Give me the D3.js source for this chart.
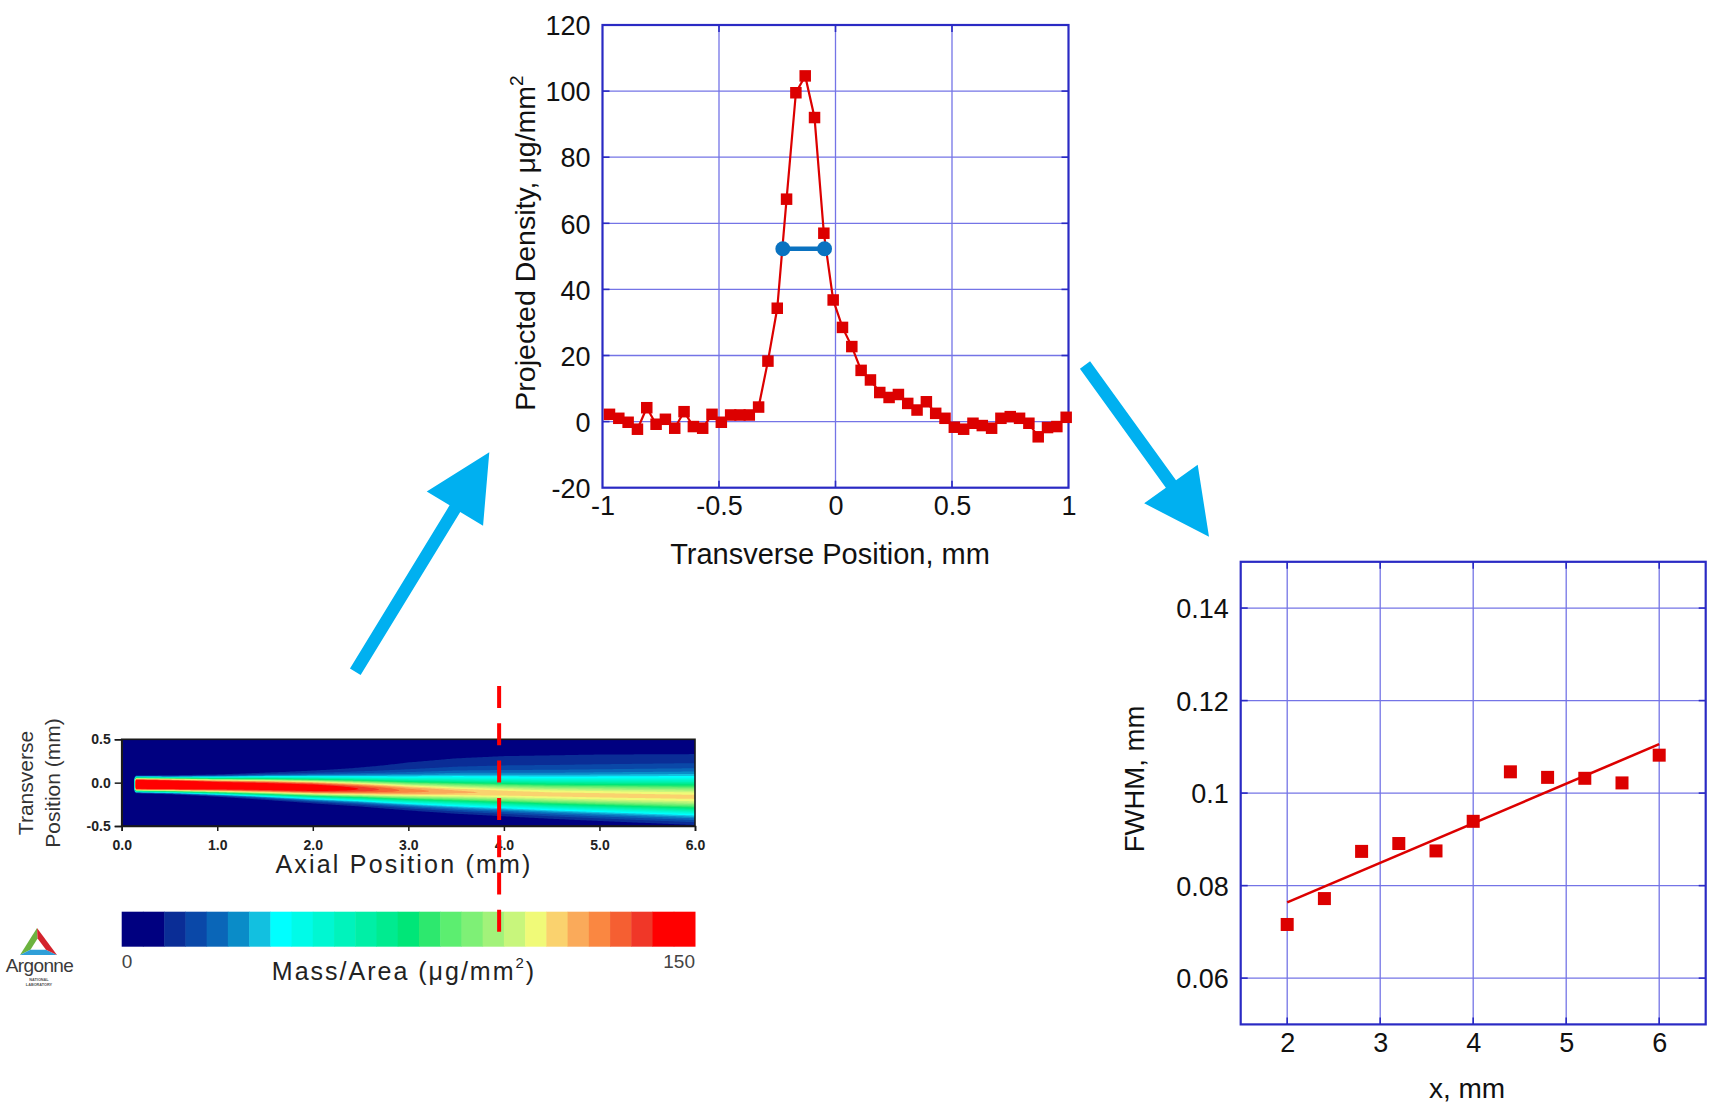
<!DOCTYPE html>
<html>
<head>
<meta charset="utf-8">
<script src="https://cdn.jsdelivr.net/npm/d3@7"></script>
<style>
  body { margin: 0; background: #fff; }
  svg { display: block; }
  text { font-family: "Liberation Sans", Arial, Helvetica, sans-serif; }
</style>
</head>
<body>
<svg id="fig" width="1714" height="1109"></svg>
<script>
// ---------- transverse density profile at the slice ----------
const transversePos = [
  -0.97, -0.93, -0.89, -0.85, -0.81, -0.77, -0.73, -0.69, -0.65, -0.61,
  -0.57, -0.53, -0.49, -0.45, -0.41, -0.37, -0.33, -0.29, -0.25, -0.21,
  -0.17, -0.13, -0.09, -0.05, -0.01, 0.03, 0.07, 0.11, 0.15, 0.19,
  0.23, 0.27, 0.31, 0.35, 0.39, 0.43, 0.47, 0.51, 0.55, 0.59,
  0.63, 0.67, 0.71, 0.75, 0.79, 0.83, 0.87, 0.91, 0.95, 0.99
];
const projectedDensity = [
  2.2, 1.0, -0.2, -2.3, 4.2, -0.8, 0.7, -2.0, 3.0, -1.5,
  -2.0, 2.2, -0.2, 2.0, 2.0, 2.0, 4.4, 18.3, 34.3, 67.3,
  99.5, 104.6, 92.0, 57.0, 36.8, 28.5, 22.7, 15.5, 12.6, 8.8,
  7.3, 8.2, 5.5, 3.5, 6.0, 2.5, 1.0, -1.7, -2.3, -0.5,
  -1.2, -2.0, 1.0, 1.5, 1.0, -0.5, -4.6, -1.8, -1.5, 1.3
];
const fwhmEdges = [-0.226, -0.047];
const fwhmLevel = 52.3;
const profileXTicks = [-1, -0.5, 0, 0.5, 1];
const profileYTicks = [-20, 0, 20, 40, 60, 80, 100, 120];

// ---------- FWHM versus axial distance ----------
const axialDist = [2, 2.4, 2.8, 3.2, 3.6, 4, 4.4, 4.8, 5.2, 5.6, 6];
const fwhmValues = [0.0716, 0.0772, 0.0874, 0.0891, 0.0875, 0.0939, 0.1046, 0.1034, 0.1032, 0.1022, 0.1082];
const fwhmXTicks = [2, 3, 4, 5, 6];
const fwhmYTicks = [0.06, 0.08, 0.1, 0.12, 0.14];

// ---------- spray mass/area map (plume parameters per axial station) ----------
const mapStations = [0.15, 0.5, 1.0, 1.5, 2.0, 2.5, 3.0, 3.5, 4.0, 4.5, 5.0, 5.5, 6.0];
const plumeCenter = [-0.02, -0.025, -0.035, -0.045, -0.06, -0.075, -0.095, -0.11, -0.125, -0.14, -0.15, -0.16, -0.17];
const plumePeak   = [165, 160, 148, 144, 141, 128, 114, 107, 103, 102, 102, 102, 102];
const plumeWidth  = [0.08, 0.082, 0.09, 0.10, 0.11, 0.12, 0.135, 0.15, 0.16, 0.17, 0.18, 0.19, 0.2];
const plumeShape  = [4, 3.6, 3.0, 2.6, 2.3, 2.1, 2.0, 1.9, 1.9, 1.9, 1.9, 1.9, 1.9];
const haloPeak    = [0, 2, 5, 8, 10, 12, 14, 15, 16, 16, 16, 16, 16];
const haloCenter  = [0, 0, 0, 0, 0.02, 0.04, 0.06, 0.08, 0.08, 0.08, 0.08, 0.08, 0.08];
const haloWidth   = [0.1, 0.12, 0.15, 0.18, 0.2, 0.22, 0.24, 0.25, 0.26, 0.27, 0.28, 0.28, 0.28];
const plumeStart = 0.15;
const mapXTicks = [0, 1, 2, 3, 4, 5, 6];
const mapYTicks = [0.5, 0, -0.5];
const massRange = [0, 150];
const massTicks = [0, 150];
const sliceAt = 3.95;

// ---------- styling ----------
const GRID = "#7474e6";
const FRAME = "#2a2ac4";
const RED = "#dc0000";
const ARROW = "#00b0f0";
const jetBands = [
  "#000080", "#000080", "#0a2d96", "#0a48a8", "#0a66b8", "#0a8cc8", "#12c0e0",
  "#00ffff", "#00fbe8", "#00f7d2", "#00f3bc", "#00efa6", "#00eb90", "#00e678",
  "#2de86e", "#5cee70", "#7ef076", "#a2f27a", "#c8f67c", "#f0fa78",
  "#fad26e", "#faaa5a", "#fa8741", "#f55f32", "#f03728", "#ff0000", "#ff0000"
];

const svg = d3.select("#fig");
svg.append("rect").attr("width", 1714).attr("height", 1109).attr("fill", "#fff");

// Framed scientific panel with blue grid, inward ticks and axis numbers
function framedPanel(cfg) {
  const g = svg.append("g");
  const x = d3.scaleLinear().domain(cfg.xDomain).range([cfg.left, cfg.right]);
  const y = d3.scaleLinear().domain(cfg.yDomain).range([cfg.bottom, cfg.top]);
  const inX = cfg.xTicks.filter(t => t > cfg.xDomain[0] + 1e-9 && t < cfg.xDomain[1] - 1e-9);
  const inY = cfg.yTicks.filter(t => t > cfg.yDomain[0] + 1e-9 && t < cfg.yDomain[1] - 1e-9);

  g.append("g").selectAll("line").data(inX).join("line")
    .attr("x1", d => x(d)).attr("x2", d => x(d))
    .attr("y1", cfg.top).attr("y2", cfg.bottom)
    .attr("stroke", GRID).attr("stroke-width", 1.3);
  g.append("g").selectAll("line").data(inY).join("line")
    .attr("y1", d => y(d)).attr("y2", d => y(d))
    .attr("x1", cfg.left).attr("x2", cfg.right)
    .attr("stroke", GRID).attr("stroke-width", 1.3);

  const tk = 7;
  const ticks = g.append("g").attr("stroke", FRAME).attr("stroke-width", 1.6);
  inY.forEach(d => {
    ticks.append("line").attr("x1", cfg.left).attr("x2", cfg.left + tk).attr("y1", y(d)).attr("y2", y(d));
    ticks.append("line").attr("x1", cfg.right - tk).attr("x2", cfg.right).attr("y1", y(d)).attr("y2", y(d));
  });
  inX.forEach(d => {
    ticks.append("line").attr("y1", cfg.bottom).attr("y2", cfg.bottom - tk).attr("x1", x(d)).attr("x2", x(d));
    ticks.append("line").attr("y1", cfg.top).attr("y2", cfg.top + tk).attr("x1", x(d)).attr("x2", x(d));
  });

  g.append("rect")
    .attr("x", cfg.left).attr("y", cfg.top)
    .attr("width", cfg.right - cfg.left).attr("height", cfg.bottom - cfg.top)
    .attr("fill", "none").attr("stroke", FRAME).attr("stroke-width", 2.2);

  const xAxis = g.append("g").attr("transform", `translate(0,${cfg.bottom})`)
    .call(d3.axisBottom(x).tickValues(cfg.xTicks).tickFormat(cfg.xFmt).tickSize(0).tickPadding(8));
  const yAxis = g.append("g").attr("transform", `translate(${cfg.left},0)`)
    .call(d3.axisLeft(y).tickValues(cfg.yTicks).tickFormat(cfg.yFmt).tickSize(0).tickPadding(12));
  [xAxis, yAxis].forEach(a => {
    a.select(".domain").remove();
    a.attr("font-family", null).attr("font-size", null);
    a.selectAll("text").attr("font-size", 27).attr("fill", "#111");
  });
  yAxis.selectAll("text").attr("dy", "0.36em");
  return { g, x, y };
}

// ---------- top: projected density profile ----------
const prof = framedPanel({
  left: 602.5, right: 1068.5, top: 25, bottom: 487.7,
  xDomain: [-1, 1], yDomain: [-20, 120],
  xTicks: profileXTicks, yTicks: profileYTicks,
  xFmt: d => String(d), yFmt: d => String(d)
});
const profPts = transversePos.map((p, i) => [p, projectedDensity[i]]);
prof.g.append("path")
  .datum(profPts)
  .attr("d", d3.line().x(d => prof.x(d[0])).y(d => prof.y(d[1])))
  .attr("fill", "none").attr("stroke", RED).attr("stroke-width", 2.2);
const sq1 = 11.5;
prof.g.append("g").selectAll("rect").data(profPts).join("rect")
  .attr("x", d => prof.x(d[0]) - sq1 / 2).attr("y", d => prof.y(d[1]) - sq1 / 2)
  .attr("width", sq1).attr("height", sq1).attr("fill", RED);
// full width at half maximum marker
prof.g.append("line")
  .attr("x1", prof.x(fwhmEdges[0])).attr("x2", prof.x(fwhmEdges[1]))
  .attr("y1", prof.y(fwhmLevel)).attr("y2", prof.y(fwhmLevel))
  .attr("stroke", "#0a72c0").attr("stroke-width", 4.5);
prof.g.append("g").selectAll("circle").data(fwhmEdges).join("circle")
  .attr("cx", d => prof.x(d)).attr("cy", prof.y(fwhmLevel)).attr("r", 7.5)
  .attr("fill", "#0a72c0");

svg.append("text").attr("x", 830).attr("y", 564).attr("text-anchor", "middle")
  .attr("font-size", 29).attr("fill", "#111").text("Transverse Position, mm");
const yt = svg.append("text").attr("transform", "translate(535,243) rotate(-90)")
  .attr("text-anchor", "middle").attr("font-size", 28.5).attr("fill", "#111");
yt.append("tspan").text("Projected Density, μg/mm");
yt.append("tspan").attr("dy", -12).attr("font-size", 19).text("2");

// ---------- right: FWHM growth ----------
const fw = framedPanel({
  left: 1240.7, right: 1705.7, top: 561.8, bottom: 1024.4,
  xDomain: [1.5, 6.5], yDomain: [0.05, 0.15],
  xTicks: fwhmXTicks, yTicks: fwhmYTicks,
  xFmt: d => String(d), yFmt: d => String(d)
});
// least-squares trend line through the FWHM points
const mx = d3.mean(axialDist), my = d3.mean(fwhmValues);
const slope = d3.sum(axialDist, (v, i) => (v - mx) * (fwhmValues[i] - my)) /
              d3.sum(axialDist, v => (v - mx) * (v - mx));
const icpt = my - slope * mx;
const xr = d3.extent(axialDist);
fw.g.append("line")
  .attr("x1", fw.x(xr[0])).attr("y1", fw.y(icpt + slope * xr[0]))
  .attr("x2", fw.x(xr[1])).attr("y2", fw.y(icpt + slope * xr[1]))
  .attr("stroke", RED).attr("stroke-width", 2.6);
const sq2 = 13;
fw.g.append("g").selectAll("rect").data(axialDist).join("rect")
  .attr("x", (d) => fw.x(d) - sq2 / 2)
  .attr("y", (d, i) => fw.y(fwhmValues[i]) - sq2 / 2)
  .attr("width", sq2).attr("height", sq2).attr("fill", RED);
svg.append("text").attr("x", 1467).attr("y", 1098).attr("text-anchor", "middle")
  .attr("font-size", 28).attr("fill", "#111").text("x, mm");
svg.append("text").attr("transform", "translate(1144,779) rotate(-90)")
  .attr("text-anchor", "middle").attr("font-size", 27.5).attr("fill", "#111").text("FWHM, mm");

// ---------- bottom-left: mass/area map ----------
const map = { left: 121.7, right: 695, top: 739.3, bottom: 826 };
const mxS = d3.scaleLinear().domain([0, 6]).range([map.left, map.right]);
const myS = d3.scaleLinear().domain([-0.5, 0.5]).range([map.bottom, map.top]);
const massColor = d3.scaleQuantize().domain(massRange).range(jetBands);

const along = arr => d3.scaleLinear().domain(mapStations).range(arr).clamp(true);
const cS = along(plumeCenter), pS = along(plumePeak), wS = along(plumeWidth),
      eS = along(plumeShape), hS = along(haloPeak), hcS = along(haloCenter), hwS = along(haloWidth);
function massAt(ax, tr) {
  if (ax < plumeStart) return 0;
  const core = pS(ax) * Math.exp(-Math.pow(Math.abs(tr - cS(ax)) / wS(ax), eS(ax)));
  const hz = (tr - hcS(ax)) / hwS(ax);
  return core + hS(ax) * Math.exp(-0.5 * hz * hz);
}
const NX = 300, NY = 100;
const dxg = 6 / NX, dyg = 1 / NY;
const grid = new Float64Array(NX * NY);
for (let j = 0; j < NY; j++) {
  for (let i = 0; i < NX; i++) {
    grid[j * NX + i] = massAt((i + 0.5) * dxg, 0.5 - (j + 0.5) * dyg);
  }
}
const levels = massColor.thresholds();
const bands = d3.contours().size([NX, NY]).thresholds(levels)(grid);
const gridToPx = d3.geoTransform({
  point(gx, gy) { this.stream.point(mxS(gx * dxg), myS(0.5 - gy * dyg)); }
});
const contourPath = d3.geoPath(gridToPx);
svg.append("clipPath").attr("id", "mapclip").append("rect")
  .attr("x", map.left).attr("y", map.top)
  .attr("width", map.right - map.left).attr("height", map.bottom - map.top);
const mapG = svg.append("g").attr("clip-path", "url(#mapclip)");
mapG.append("rect").attr("x", map.left).attr("y", map.top)
  .attr("width", map.right - map.left).attr("height", map.bottom - map.top)
  .attr("fill", massColor(0));
mapG.selectAll("path").data(bands).join("path")
  .attr("d", contourPath)
  .attr("fill", d => massColor(d.value + 1e-6));

svg.append("rect").attr("x", map.left).attr("y", map.top)
  .attr("width", map.right - map.left).attr("height", map.bottom - map.top)
  .attr("fill", "none").attr("stroke", "#1a1a1a").attr("stroke-width", 1.6);
const mapAxisX = svg.append("g").attr("transform", `translate(0,${map.bottom})`)
  .call(d3.axisBottom(mxS).tickValues(mapXTicks).tickFormat(d => d.toFixed(1)).tickSize(5).tickPadding(9));
const mapAxisY = svg.append("g").attr("transform", `translate(${map.left},0)`)
  .call(d3.axisLeft(myS).tickValues(mapYTicks).tickFormat(d => d.toFixed(1)).tickSize(7).tickPadding(4));
[mapAxisX, mapAxisY].forEach(a => {
  a.select(".domain").attr("stroke", "#1a1a1a").attr("stroke-width", 1.6);
  a.selectAll(".tick line").attr("stroke", "#1a1a1a").attr("stroke-width", 1.5);
  a.attr("font-family", null).attr("font-size", null);
  a.selectAll("text").attr("font-size", 14).attr("font-weight", "bold").attr("fill", "#222");
});
svg.append("text").attr("x", 404).attr("y", 873).attr("text-anchor", "middle")
  .attr("font-size", 25).attr("letter-spacing", 2.2).attr("fill", "#222").text("Axial Position (mm)");
svg.append("text").attr("transform", "translate(33,783) rotate(-90)")
  .attr("text-anchor", "middle").attr("font-size", 21).attr("fill", "#333").text("Transverse");
svg.append("text").attr("transform", "translate(60,783) rotate(-90)")
  .attr("text-anchor", "middle").attr("font-size", 21).attr("fill", "#333").text("Position (mm)");

// colour bar
const cb = { top: 911.7, bottom: 946.7 };
const cbX = d3.scaleLinear().domain(massRange).range([map.left, map.right]);
const bandEdges = [massRange[0], ...levels, massRange[1]];
svg.append("g").selectAll("rect").data(jetBands).join("rect")
  .attr("x", (d, i) => cbX(bandEdges[i]))
  .attr("width", (d, i) => cbX(bandEdges[i + 1]) - cbX(bandEdges[i]) + 0.5)
  .attr("y", cb.top).attr("height", cb.bottom - cb.top)
  .attr("fill", d => d);
svg.append("g").selectAll("text").data(massTicks).join("text")
  .attr("x", d => cbX(d)).attr("y", 968)
  .attr("text-anchor", (d, i) => i === 0 ? "start" : "end")
  .attr("font-size", 19).attr("fill", "#444").text(d => String(d));
const ma = svg.append("text").attr("x", 404).attr("y", 980).attr("text-anchor", "middle")
  .attr("font-size", 25).attr("letter-spacing", 2).attr("fill", "#222");
ma.append("tspan").text("Mass/Area (μg/mm");
ma.append("tspan").attr("dy", -12).attr("font-size", 15).text("2");
ma.append("tspan").attr("dy", 12).text(")");

// slice position marker
svg.append("line")
  .attr("x1", mxS(sliceAt)).attr("x2", mxS(sliceAt))
  .attr("y1", 686).attr("y2", 932)
  .attr("stroke", "#ff0000").attr("stroke-width", 4)
  .attr("stroke-dasharray", "22 15.3");

// laboratory logo
(function logo() {
  const A = [37, 928], B = [20, 955], C = [57, 955];
  const G = [(A[0] + B[0] + C[0]) / 3, (A[1] + B[1] + C[1]) / 3];
  const inner = P => [G[0] + (P[0] - G[0]) * 0.42, G[1] + (P[1] - G[1]) * 0.42];
  const a = inner(A), b = inner(B), c = inner(C);
  const poly = pts => "M" + pts.map(p => p.join(",")).join("L") + "Z";
  const lg = svg.append("g");
  lg.append("path").attr("d", poly([A, B, b, a])).attr("fill", "#6cb33f");
  lg.append("path").attr("d", poly([B, C, c, b])).attr("fill", "#2f9fd8");
  lg.append("path").attr("d", poly([C, A, a, c])).attr("fill", "#d3232c");
  lg.append("text").attr("x", 39.5).attr("y", 972).attr("text-anchor", "middle")
    .attr("font-size", 19).attr("letter-spacing", -0.6).attr("fill", "#3a3a3a").text("Argonne");
  lg.append("text").attr("x", 39).attr("y", 980.5).attr("text-anchor", "middle")
    .attr("font-size", 3.8).attr("font-weight", "bold").attr("fill", "#555").text("NATIONAL");
  lg.append("text").attr("x", 39).attr("y", 986).attr("text-anchor", "middle")
    .attr("font-size", 3.8).attr("font-weight", "bold").attr("fill", "#555").text("LABORATORY");
})();

// connecting arrows
function blockArrow(tail, tip, shaftW, headLen, headHalf) {
  const dx = tip[0] - tail[0], dy = tip[1] - tail[1];
  const L = Math.hypot(dx, dy), ux = dx / L, uy = dy / L, nx = -uy, ny = ux;
  const bx = tip[0] - ux * headLen, by = tip[1] - uy * headLen;
  const s = shaftW / 2;
  const pts = [
    [tail[0] + nx * s, tail[1] + ny * s], [bx + nx * s, by + ny * s],
    [bx + nx * headHalf, by + ny * headHalf], tip,
    [bx - nx * headHalf, by - ny * headHalf], [bx - nx * s, by - ny * s],
    [tail[0] - nx * s, tail[1] - ny * s]
  ];
  svg.append("path").attr("d", "M" + pts.map(p => p.join(",")).join("L") + "Z").attr("fill", ARROW);
}
blockArrow([355.3, 671.7], [489.3, 452.3], 12.5, 66, 33);
blockArrow([1085, 365], [1209, 536.7], 12.5, 65, 33);
</script>
</body>
</html>
